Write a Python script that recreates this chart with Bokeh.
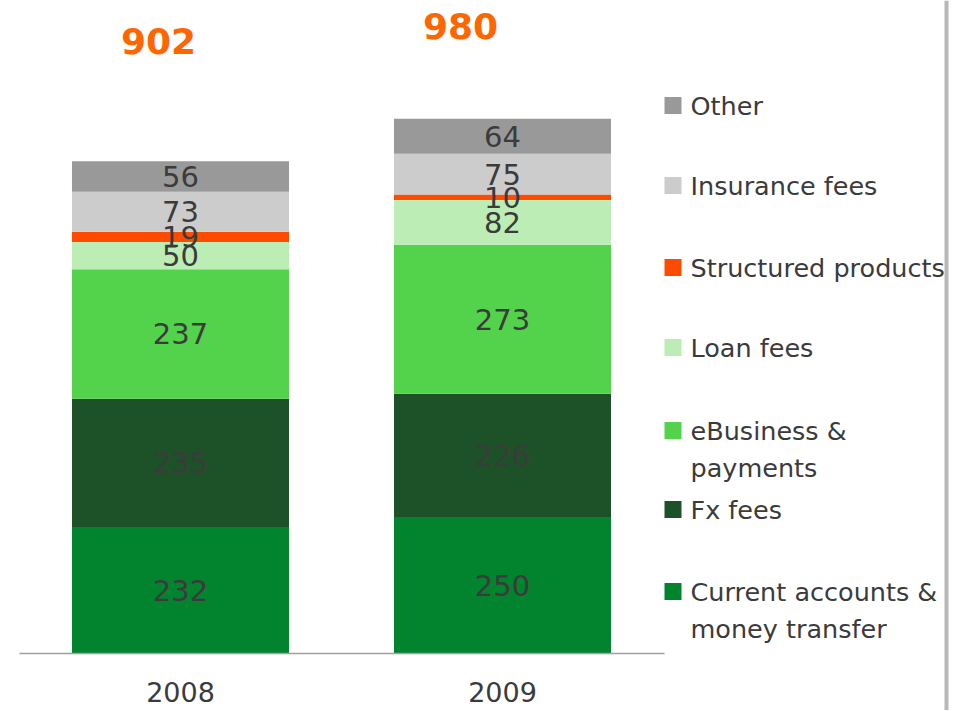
import numpy as np
from bokeh.plotting import figure
from bokeh.models import Range1d, ColumnDataSource
from bokeh.core.properties import value
from bokeh.embed import file_html
from bokeh.resources import INLINE

# ---------------- data ----------------
years = ["2008", "2009"]
categories = ["Current accounts & money transfer", "Fx fees", "eBusiness & payments",
              "Loan fees", "Structured products", "Insurance fees", "Other"]
current_accounts = [232, 250]
fx_fees = [235, 226]
ebusiness = [237, 273]
loan_fees = [50, 82]
structured = [19, 10]
insurance = [73, 75]
other = [56, 64]
totals = [902, 980]
legend_labels = ["Current accounts &\nmoney transfer", "Fx fees", "eBusiness &\npayments",
                 "Loan fees", "Structured products", "Insurance fees", "Other"]

# ---------------- style / layout ----------------
colors = ["#02842F", "#1D5228", "#53D24B", "#BBEDB5", "#FF4B00", "#CCCCCC", "#999999"]
TEXT = "#3b3b3b"
ORANGE = "#FF6600"
FONT = "DejaVu Sans"

W, H = 958, 710           # canvas: page x 0..958, y 0..710
PAGE_X0, PAGE_Y0 = 0, 0
BASE_Y = 653              # page y of value 0
PX_PER_UNIT = 0.5457      # pixels per value unit
CAT0_X = 180              # page x of first bar centre
PX_PER_CAT = 322          # page px between bar centres
BAR_W = 0.674

x_start = (PAGE_X0 - CAT0_X) / PX_PER_CAT
x_end = (PAGE_X0 + W - CAT0_X) / PX_PER_CAT
y_start = (BASE_Y - (PAGE_Y0 + H)) / PX_PER_UNIT
y_end = (BASE_Y - PAGE_Y0) / PX_PER_UNIT

p = figure(width=W, height=H, output_backend="svg", toolbar_location=None,
           x_range=Range1d(x_start, x_end), y_range=Range1d(y_start, y_end),
           x_axis_location=None, y_axis_location=None, min_border=0)
p.extra_x_ranges = {"px": Range1d(PAGE_X0, PAGE_X0 + W)}
p.extra_y_ranges = {"px": Range1d(PAGE_Y0 + H, PAGE_Y0)}
p.grid.visible = False
p.outline_line_color = None
p.background_fill_color = "white"
p.border_fill_color = "white"

series = [current_accounts, fx_fees, ebusiness, loan_fees, structured, insurance, other]
xs = list(range(len(years)))
data = {"x": xs}
for name, vals in zip(categories, series):
    data[name] = vals
src = ColumnDataSource(data)
p.vbar_stack(categories, x="x", width=BAR_W, color=colors, line_color=None, source=src)

# segment labels
arr = np.array(series, dtype=float)
bottoms = np.vstack([np.zeros(arr.shape[1]), np.cumsum(arr, axis=0)[:-1]])
centers = bottoms + arr / 2
lx, ly, lt = [], [], []
for i in range(arr.shape[0]):
    for j in range(arr.shape[1]):
        lx.append(xs[j]); ly.append(centers[i, j]); lt.append(str(int(arr[i, j])))
p.text(x=lx, y=ly, text=lt, text_font=value(FONT), text_font_size="29px",
       text_color=TEXT, text_align="center", text_baseline="middle")

# totals
TOTAL_DX = [-22, -42]
TOTAL_DY = [-120, -93]
p.text(x=xs, y=totals, text=[str(t) for t in totals], x_offset=TOTAL_DX, y_offset=TOTAL_DY,
       text_font=value(FONT), text_font_style="bold", text_font_size="36px",
       text_color=ORANGE, text_align="center", text_baseline="middle")

# baseline axis
p.segment(x0=[19], x1=[664], y0=[0], y1=[0], x_range_name="px",
          line_color="#a0a0a0", line_width=1.5)
# year labels
p.text(x=xs, y=[0] * len(xs), text=years, y_offset=38, text_font=value(FONT),
       text_font_size="27px", text_color=TEXT, text_align="center", text_baseline="middle")

# legend (top to bottom)
LEG_Y = [105, 185, 267, 347, 430, 509, 591]
LEG_SQ_X = 672.5
LEG_TX = 690
LINE_H = 37
order = list(range(len(categories)))[::-1]
p.scatter(x=[LEG_SQ_X] * len(order), y=LEG_Y, marker="square", size=17,
          color=[colors[k] for k in order], line_color=None,
          x_range_name="px", y_range_name="px")
tx, ty, tt = [], [], []
for yy, k in zip(LEG_Y, order):
    for n, line in enumerate(legend_labels[k].split("\n")):
        tx.append(LEG_TX); ty.append(yy + n * LINE_H); tt.append(line)
p.text(x=tx, y=ty, text=tt, text_font=value(FONT), text_font_size="25.5px",
       text_color=TEXT, text_align="left", text_baseline="middle",
       x_range_name="px", y_range_name="px")

# right-side gray rule (drawn last, over the legend text edge)
p.segment(x0=[946], x1=[946], y0=[PAGE_Y0], y1=[PAGE_Y0 + H], x_range_name="px",
          y_range_name="px", line_color="#b8b8b8", line_width=4)

open("out.html", "w").write(file_html(p, INLINE))
